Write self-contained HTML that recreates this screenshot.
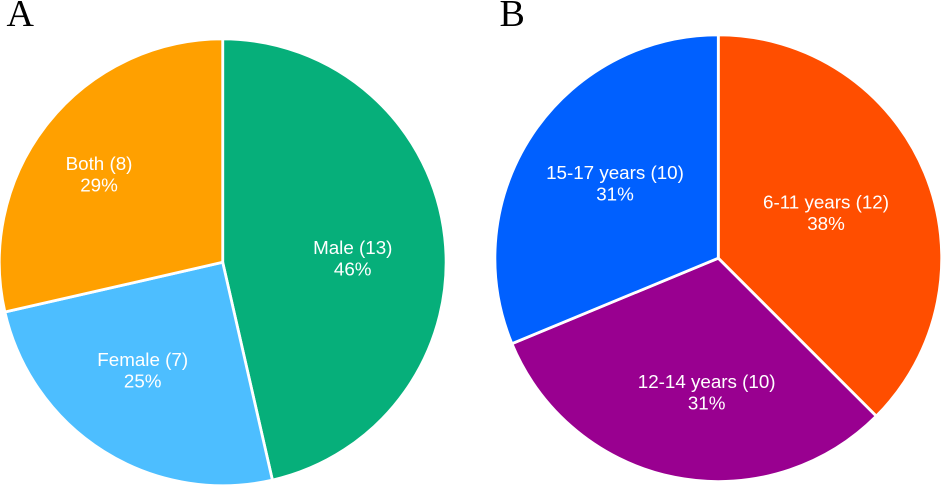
<!DOCTYPE html>
<html lang="en">
<head>
<meta charset="utf-8">
<title>Pie charts by gender and age group</title>
<style>
  html, body { margin: 0; padding: 0; background: #fff; }
  #figure { display: block; width: 941px; height: 485px; overflow: hidden; }
  .slice-label { font-family: "Liberation Sans", sans-serif; font-size: 18.8px; fill: #fff; text-anchor: middle; }
  .panel-letter { font-family: "Liberation Serif", serif; font-size: 38px; fill: #000; }
</style>
</head>
<body>
<svg id="figure" xmlns="http://www.w3.org/2000/svg" width="941" height="485" viewBox="0 0 941 485">
  <rect x="0" y="0" width="941" height="485" fill="#fff"/>
  <text class="panel-letter" x="6.5" y="26">A</text>
  <text class="panel-letter" x="499.5" y="26">B</text>
  <g id="pie-a"></g>
  <g id="pie-b"></g>
</svg>
<script>
// Panel A data
const genderCategories = ['Male', 'Female', 'Both'];
const genderValues = [13, 7, 8];
// Panel B data
const ageCategories = ['6-11 years', '12-14 years', '15-17 years'];
const ageValues = [12, 10, 10];

// Styling and layout (separate from the data)
const genderColors = ['#06AF7A', '#4DBEFF', '#FFA000'];
const ageColors = ['#FF4E00', '#990090', '#0060FF'];
const genderLabelNudges = [[-6.7, 17.9], [-6.8, -2], [-16.1, 4]];
const ageLabelNudges = [[-19.4, 13.9], [15.2, 5.5], [11.1, 8]];
const SVG_NS = 'http://www.w3.org/2000/svg';
const PIE_RADIUS = 223.4;
const LABEL_RADIUS = 137.6;
const LINE_GAP = 10.75;

function polar(cx, cy, r, deg) {
  const a = deg * Math.PI / 180;
  return [cx + r * Math.sin(a), cy - r * Math.cos(a)];
}

function angleScale(values) {
  const total = values.reduce((s, v) => s + v, 0);
  return v => v / total * 360;
}

function addLine(parent, x, y, content, name) {
  const t = document.createElementNS(SVG_NS, 'text');
  t.setAttribute('class', 'slice-label');
  t.setAttribute('x', x.toFixed(2));
  t.setAttribute('y', y.toFixed(2));
  
  
  t.textContent = content;
  parent.appendChild(t);
}

function drawPie(groupId, cx, cy, categories, values, colors, nudges) {
  const group = document.getElementById(groupId);
  const toAngle = angleScale(values);
  const total = values.reduce((s, v) => s + v, 0);
  let start = 0;
  values.forEach((v, i) => {
    const sweep = toAngle(v);
    const end = start + sweep;
    const p0 = polar(cx, cy, PIE_RADIUS, start);
    const p1 = polar(cx, cy, PIE_RADIUS, end);
    const large = sweep > 180 ? 1 : 0;
    const path = document.createElementNS(SVG_NS, 'path');
    path.setAttribute('d', 'M' + cx + ' ' + cy + ' L' + p0[0].toFixed(2) + ' ' + p0[1].toFixed(2) +
      ' A' + PIE_RADIUS + ' ' + PIE_RADIUS + ' 0 ' + large + ' 1 ' + p1[0].toFixed(2) + ' ' + p1[1].toFixed(2) + ' Z');
    path.setAttribute('fill', colors[i]);
    path.setAttribute('stroke', '#fff');
    path.setAttribute('stroke-width', '2.8');
    path.setAttribute('stroke-linejoin', 'round');
    
    
    group.appendChild(path);
    start = end;
  });
  start = 0;
  values.forEach((v, i) => {
    const sweep = toAngle(v);
    const anchor = polar(cx, cy, LABEL_RADIUS, start + sweep / 2);
    const x = anchor[0] + nudges[i][0];
    const y = anchor[1] + nudges[i][1];
    const slug = categories[i].toLowerCase().replace(/\s+/g, '-');
    addLine(group, x, y - LINE_GAP, categories[i] + ' (' + v + ')', 'label-' + slug);
    addLine(group, x, y + LINE_GAP, Math.round(v / total * 100) + '%', 'percent-' + slug);
    start += sweep;
  });
}

drawPie('pie-a', 222.7, 262.3, genderCategories, genderValues, genderColors, genderLabelNudges);
drawPie('pie-b', 718.3, 258.2, ageCategories, ageValues, ageColors, ageLabelNudges);
</script>
</body>
</html>
